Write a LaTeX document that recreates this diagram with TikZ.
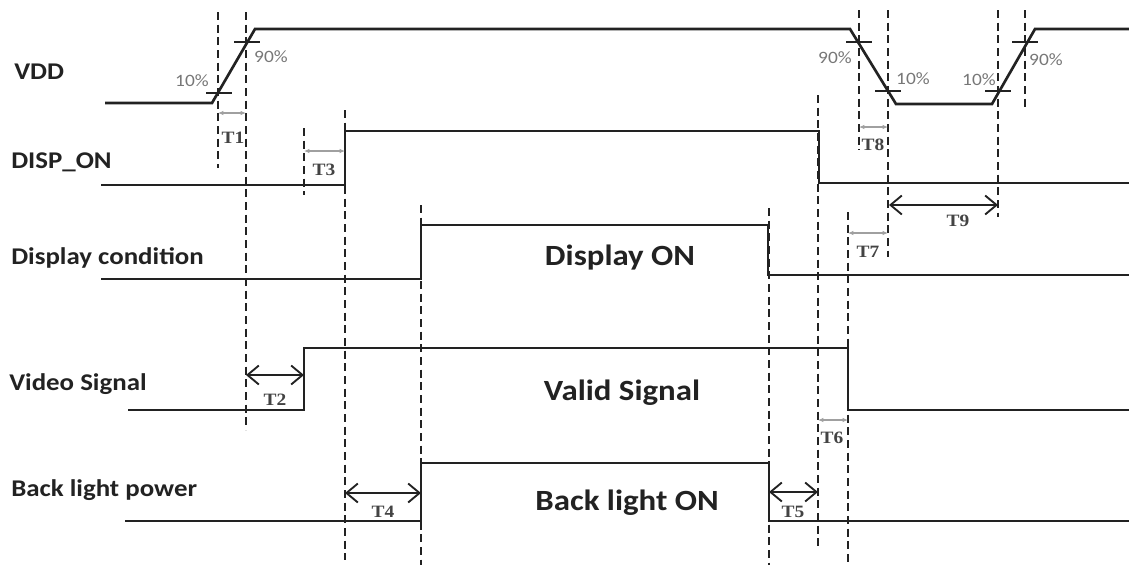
\documentclass[tikz,border=0pt]{standalone}
\usepackage{fontspec}
\setmainfont{Carlito}[FakeStretch=1.12]
\newfontfamily\tfont{Liberation Serif}[FakeStretch=1.12]
\usetikzlibrary{arrows.meta}
\usepackage{xcolor}
\definecolor{ink}{HTML}{222222}
\definecolor{pctgray}{HTML}{777777}
\definecolor{minorgray}{HTML}{A0A0A0}

\begin{document}
\begin{tikzpicture}[
  x=0.75pt, y=-0.75pt,
  wave/.style={draw=ink, line width=2pt, line join=miter},
  guide/.style={draw=ink, line width=2pt, dash pattern=on 6pt off 3.5pt},
  tick/.style={draw=ink, line width=1.2pt},
  sig/.style={anchor=west, text=ink, font=\fontsize{18}{20}\selectfont\bfseries, inner sep=0pt},
  state/.style={text=ink, font=\fontsize{22}{24}\selectfont\bfseries, inner sep=0pt},
  pct/.style={text=pctgray, font=\fontsize{13}{14}\selectfont, inner sep=0pt},
  tlab/.style={text=ink!85, font=\tfont\fontsize{13}{14}\selectfont\bfseries, inner sep=0pt},
  span/.style={{Straight Barb[length=3mm, width=5mm]}-{Straight Barb[length=3mm, width=5mm]}, draw=ink, line width=1.4pt},
  minor/.style={{Latex[length=1.4mm, width=1.2mm]}-{Latex[length=1.4mm, width=1.2mm]}, draw=minorgray, line width=0.8pt}
]
  \useasboundingbox (0,0) rectangle (1129,565);

  % signal names
  \node[sig] (vdd) at (14,72) {VDD};
  \node[sig] (disp) at (11,162) {DISP\_ON};
  \node[sig] (cond) at (11,258) {Display condition};
  \node[sig] (video) at (9,384) {Video Signal};
  \node[sig] (blight) at (11,490) {Back light power};

  % waveforms
  \draw[wave] (105,103) -- (212,103) -- (255,29) -- (850,29) -- (896,104) -- (992,104) -- (1035,29) -- (1129,29);
  \draw[wave] (101,185) -- (345,185) -- (345,131) -- (819,131) -- (819,183) -- (1129,183);
  \draw[wave] (101,279) -- (421,279) -- (421,225) -- (768,225) -- (768,275) -- (1129,275);
  \draw[wave] (128,410) -- (304,410) -- (304,348) -- (848,348) -- (848,410) -- (1129,410);
  \draw[wave] (125,521) -- (421,521) -- (421,463) -- (769,463) -- (769,521) -- (1129,521);

  % level ticks on VDD
  \foreach \x/\y in {219/93, 247/42, 859/42, 888/91, 998/91, 1025/42}
    \draw[tick] (\x-13,\y) -- (\x+13,\y);

  \node[pct] (p10a) at (192,81) {10\%};
  \node[pct] (p90a) at (271,57) {90\%};
  \node[pct] (p90b) at (835,58) {90\%};
  \node[pct] (p10b) at (913,79) {10\%};
  \node[pct] (p10c) at (979,80) {10\%};
  \node[pct] (p90c) at (1046,60) {90\%};

  % dashed guide lines
  \foreach \x/\ya/\yb in {218/12/168, 246/12/430, 304/128/195, 345/110/560,
      421/205/565, 769/208/565, 818/95/550, 848/212/565,
      859/10/150, 888/10/257, 998/10/217, 1025/10/108}
    \draw[guide] (\x,\ya) -- (\x,\yb);

  % timing spans
  \coordinate (t1a) at (218,113);  \coordinate (t1b) at (246,113);
  \coordinate (t2a) at (246,375);  \coordinate (t2b) at (304,375);
  \coordinate (t3a) at (304,151);  \coordinate (t3b) at (345,151);
  \coordinate (t4a) at (345,493);  \coordinate (t4b) at (421,493);
  \coordinate (t5a) at (769,492);  \coordinate (t5b) at (818,492);
  \coordinate (t6a) at (818,420);  \coordinate (t6b) at (848,420);
  \coordinate (t7a) at (848,233);  \coordinate (t7b) at (888,233);
  \coordinate (t8a) at (859,127);  \coordinate (t8b) at (888,127);
  \coordinate (t9a) at (889,205);  \coordinate (t9b) at (998,205);

  \draw[minor] (t1a) -- (t1b);
  \draw[span] (t2a) -- (t2b);
  \draw[minor] (t3a) -- (t3b);
  \draw[span] (t4a) -- (t4b);
  \draw[span] (t5a) -- (t5b);
  \draw[minor] (t6a) -- (t6b);
  \draw[minor] (t7a) -- (t7b);
  \draw[minor] (t8a) -- (t8b);
  \draw[span] (t9a) -- (t9b);

  \node[tlab] (lt1) at (233,138) {T1};
  \node[tlab] (lt2) at (275,400) {T2};
  \node[tlab] (lt3) at (324,170) {T3};
  \node[tlab] (lt4) at (383,512) {T4};
  \node[tlab] (lt5) at (793,512) {T5};
  \node[tlab] (lt6) at (832,438) {T6};
  \node[tlab] (lt7) at (868,252) {T7};
  \node[tlab] (lt8) at (873,145) {T8};
  \node[tlab] (lt9) at (958,221) {T9};

  % states
  \node[state] (on) at (620,258) {Display ON};
  \node[state] (valid) at (622,393) {Valid Signal};
  \node[state] (blon) at (627,503) {Back light ON};
\end{tikzpicture}
\end{document}
